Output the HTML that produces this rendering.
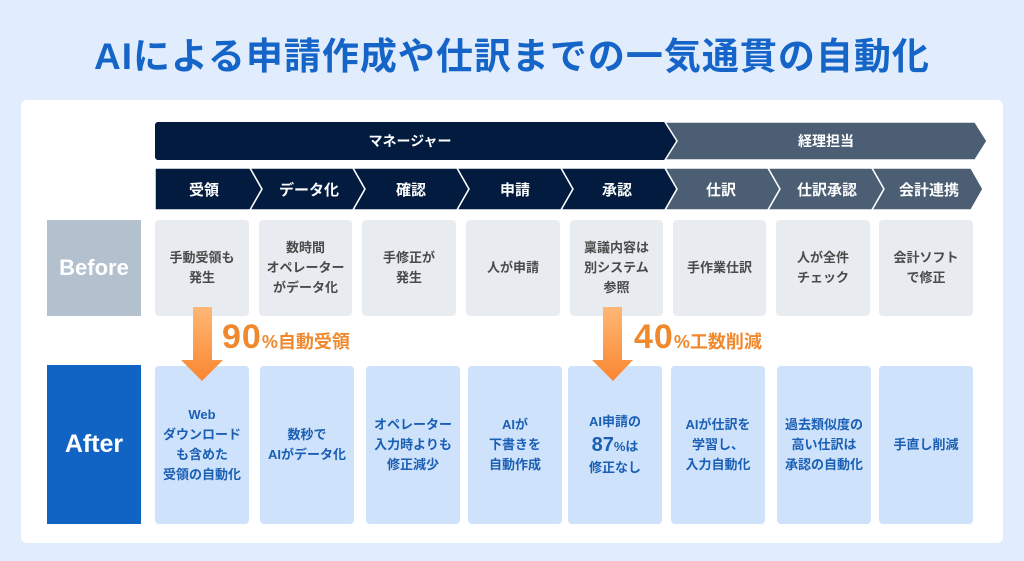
<!DOCTYPE html>
<html><head><meta charset="utf-8"><style>
body{margin:0;width:1024px;height:561px;background:#e1ecfd;font-family:"Liberation Sans","Noto Sans CJK JP",sans-serif;position:relative;overflow:hidden}
.title{position:absolute;top:26px;left:0;width:1024px;text-align:center;font-size:37px;font-weight:bold;color:#1565c8;letter-spacing:1px}
.panel{position:absolute;left:21px;top:100px;width:982px;height:443px;background:#fff;border-radius:6px}
.box{position:absolute;display:flex;align-items:center;justify-content:center;text-align:center;border-radius:4px;font-size:13px;line-height:20px;font-weight:bold}
.b{top:220px;height:96px;background:#e8ecf1;color:#4a4a4a}
.a{top:366px;height:158px;background:#cfe2fb;color:#1a5fb4}
.lab{position:absolute;left:47px;width:94px;display:flex;align-items:center;justify-content:center;color:#fff;font-weight:bold}
.pct{position:absolute;top:318px;color:#f0892e;font-weight:bold;font-size:18px;white-space:nowrap}
.pct b{font-size:34px;letter-spacing:1px}
</style></head><body>
<div class="title">AIによる申請作成や仕訳までの一気通貫の自動化</div>
<div class="panel"></div>
<svg width="1024" height="561" style="position:absolute;left:0;top:0">
<polygon points="157,122 665,122 677,141 665,160 157,160 155,158 155,124" fill="#021b3e"/>
<polygon points="665,122 975,122 987,141 975,160 665,160 677,141" fill="#4b5e74" stroke="#fff" stroke-width="1.5"/>
<g stroke="#fff" stroke-width="1.5">
<polygon points="155,168 250,168 262,189 250,210 155,210" fill="#021b3e"/>
<polygon points="250,168 353,168 365,189 353,210 250,210 262,189" fill="#021b3e"/>
<polygon points="353,168 457,168 469,189 457,210 353,210 365,189" fill="#021b3e"/>
<polygon points="457,168 561,168 573,189 561,210 457,210 469,189" fill="#021b3e"/>
<polygon points="561,168 665,168 677,189 665,210 561,210 573,189" fill="#021b3e"/>
<polygon points="665,168 768,168 780,189 768,210 665,210 677,189" fill="#4b5e74"/>
<polygon points="768,168 872,168 884,189 872,210 768,210 780,189" fill="#4b5e74"/>
<polygon points="872,168 971,168 983,189 971,210 872,210 884,189" fill="#4b5e74"/>
</g>
<g fill="#fff" font-size="14" font-weight="bold" text-anchor="middle" font-family="Liberation Sans,Noto Sans CJK JP,sans-serif">
<text x="410" y="146">マネージャー</text><text x="826" y="146">経理担当</text>
<text x="204" y="195" font-size="15">受領</text><text x="309" y="195" font-size="15">データ化</text>
<text x="411" y="195" font-size="15">確認</text><text x="515" y="195" font-size="15">申請</text>
<text x="617" y="195" font-size="15">承認</text><text x="721" y="195" font-size="15">仕訳</text>
<text x="827" y="195" font-size="15">仕訳承認</text><text x="929" y="195" font-size="15">会計連携</text>
</g>
</svg>
<div class="lab" style="top:220px;height:96px;background:#b3c1cf;font-size:22px">Before</div>
<div class="lab" style="top:365px;height:159px;background:#1163c4;font-size:25px">After</div>
<div class="box b" style="left:155px;width:94px">手動受領も<br>発生</div>
<div class="box b" style="left:259px;width:93px">数時間<br>オペレーター<br>がデータ化</div>
<div class="box b" style="left:362px;width:94px">手修正が<br>発生</div>
<div class="box b" style="left:466px;width:94px">人が申請</div>
<div class="box b" style="left:570px;width:93px">稟議内容は<br>別システム<br>参照</div>
<div class="box b" style="left:673px;width:93px">手作業仕訳</div>
<div class="box b" style="left:776px;width:94px">人が全件<br>チェック</div>
<div class="box b" style="left:879px;width:94px">会計ソフト<br>で修正</div>
<div class="box a" style="left:155px;width:94px">Web<br>ダウンロード<br>も含めた<br>受領の自動化</div>
<div class="box a" style="left:260px;width:94px">数秒で<br>AIがデータ化</div>
<div class="box a" style="left:366px;width:94px">オペレーター<br>入力時よりも<br>修正減少</div>
<div class="box a" style="left:468px;width:94px">AIが<br>下書きを<br>自動作成</div>
<div class="box a" style="left:568px;width:94px"><div>AI申請の<br><span style="font-size:20px;line-height:26px">87</span>%は<br>修正なし</div></div>
<div class="box a" style="left:671px;width:94px">AIが仕訳を<br>学習し、<br>入力自動化</div>
<div class="box a" style="left:777px;width:94px">過去類似度の<br>高い仕訳は<br>承認の自動化</div>
<div class="box a" style="left:879px;width:94px">手直し削減</div>
<svg width="1024" height="561" style="position:absolute;left:0;top:0">
<defs><linearGradient id="g2" x1="0" y1="0" x2="0" y2="1"><stop offset="0" stop-color="#ffb775"/><stop offset="1" stop-color="#f98630"/></linearGradient></defs>
<polygon points="193,307 212,307 212,360 223,360 202,381 181,360 193,360" fill="url(#g2)"/>
<polygon points="603,307 622,307 622,360 633,360 613,381 592,360 603,360" fill="url(#g2)"/>
</svg>
<div class="pct" style="left:222px"><b>90</b>%自動受領</div>
<div class="pct" style="left:634px"><b>40</b>%工数削減</div>
</body></html>
